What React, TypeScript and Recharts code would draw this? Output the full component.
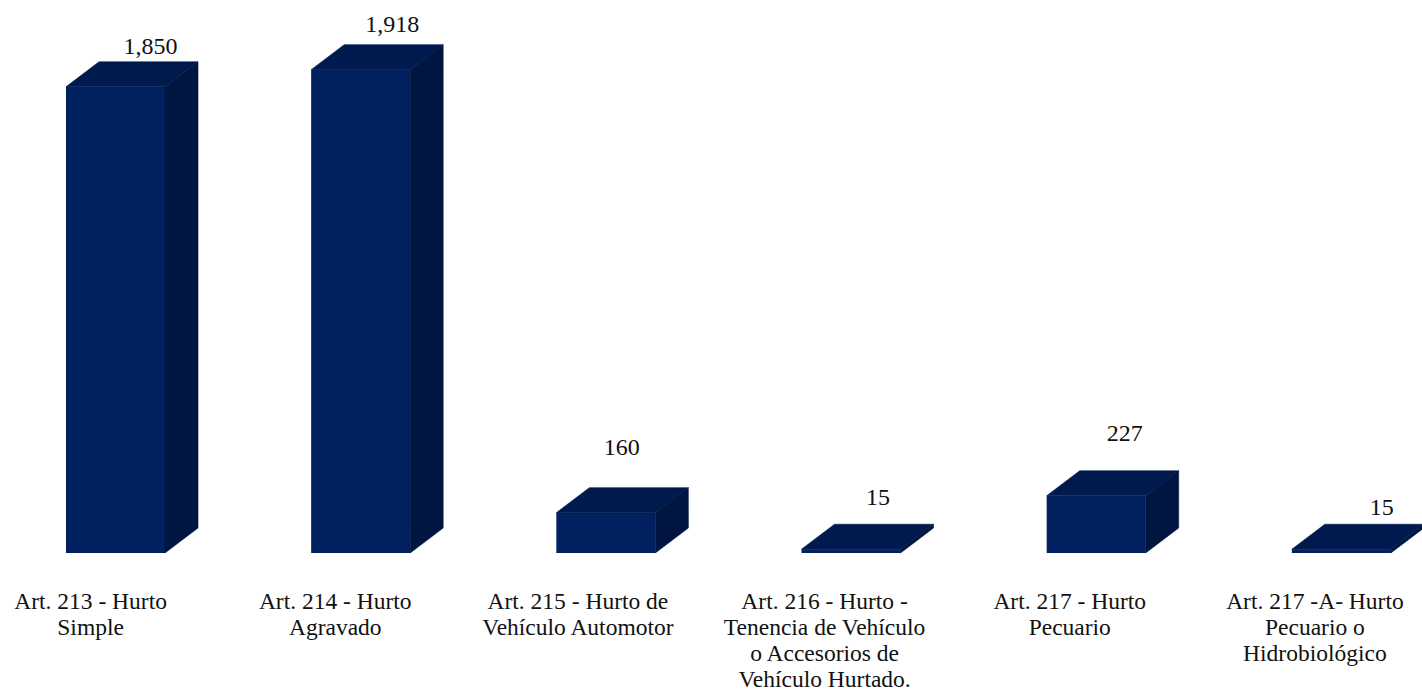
import { BarChart, Bar, XAxis, YAxis, LabelList } from "recharts";

const categories = [
  ["Art. 213 - Hurto", "Simple"],
  ["Art. 214 - Hurto", "Agravado"],
  ["Art. 215 - Hurto de", "Vehículo Automotor"],
  ["Art. 216 - Hurto -", "Tenencia de Vehículo", "o Accesorios de", "Vehículo Hurtado."],
  ["Art. 217 - Hurto", "Pecuario"],
  ["Art. 217 -A- Hurto", "Pecuario o", "Hidrobiológico"],
];
const values = [1850, 1918, 160, 15, 227, 15];

// the labels in the original were dragged around by hand
const tickShift = [-25, -25.5, -28, -26.5, -26.5, -26.5];
const labelShift = [
  [35, -33],
  [31.5, -38],
  [16, -58],
  [27, -44],
  [28.5, -55],
  [40.5, -34],
];

const data = values.map((value, i) => ({ id: i, lines: categories[i], value }));

const DEPTH_X = 33;
const DEPTH_Y = 25;
const FONT = "'Liberation Serif', serif";

function Box3D({ x, y, width, height }: any) {
  const r = x + width;
  const b = y + height;
  return (
    <g strokeWidth={0.6}>
      <rect x={x} y={y} width={width} height={height} fill="#002060" />
      <path
        d={`M${r} ${y}L${r + DEPTH_X} ${y - DEPTH_Y}V${b - DEPTH_Y}L${r} ${b}Z`}
        fill="#001540"
        stroke="#001540"
      />
      <path
        d={`M${x} ${y}L${x + DEPTH_X} ${y - DEPTH_Y}H${r + DEPTH_X}L${r} ${y}Z`}
        fill="#001a4d"
        stroke="#001a4d"
      />
    </g>
  );
}

function CategoryTick({ x, payload, index }: any) {
  const i = payload.index ?? index;
  const cx = x + tickShift[i];
  return (
    <text x={cx} y={608.5} textAnchor="middle" fontFamily={FONT} fontSize={23.5} fill="#111">
      {categories[i].map((line, n) => (
        <tspan key={n} x={cx} dy={n === 0 ? 0 : 26}>
          {line}
        </tspan>
      ))}
    </text>
  );
}

function ValueLabel({ x, y, width, value, index }: any) {
  const [dx, dy] = labelShift[index];
  return (
    <text
      x={x + width / 2 + dx}
      y={y + dy}
      textAnchor="middle"
      fontFamily={FONT}
      fontSize={24}
      fill="#111"
    >
      {Number(value).toLocaleString("en-US")}
    </text>
  );
}

export default function App() {
  return (
    <div style={{ position: "absolute", left: 0, top: 0, width: 1422, height: 692, overflow: "hidden" }}>
      <BarChart
        width={1422}
        height={692}
        data={data}
        barSize={99}
        margin={{ top: 49, right: -42, bottom: 0, left: -7 }}
        style={{ overflow: "visible" }}
      >
        <XAxis
          dataKey="id"
          type="category"
          height={139}
          interval={0}
          axisLine={false}
          tickLine={false}
          tick={<CategoryTick />}
        />
        <YAxis hide domain={[0, 2000]} />
        <Bar dataKey="value" shape={<Box3D />} isAnimationActive={false}>
          <LabelList dataKey="value" content={<ValueLabel />} />
        </Bar>
      </BarChart>
    </div>
  );
}
